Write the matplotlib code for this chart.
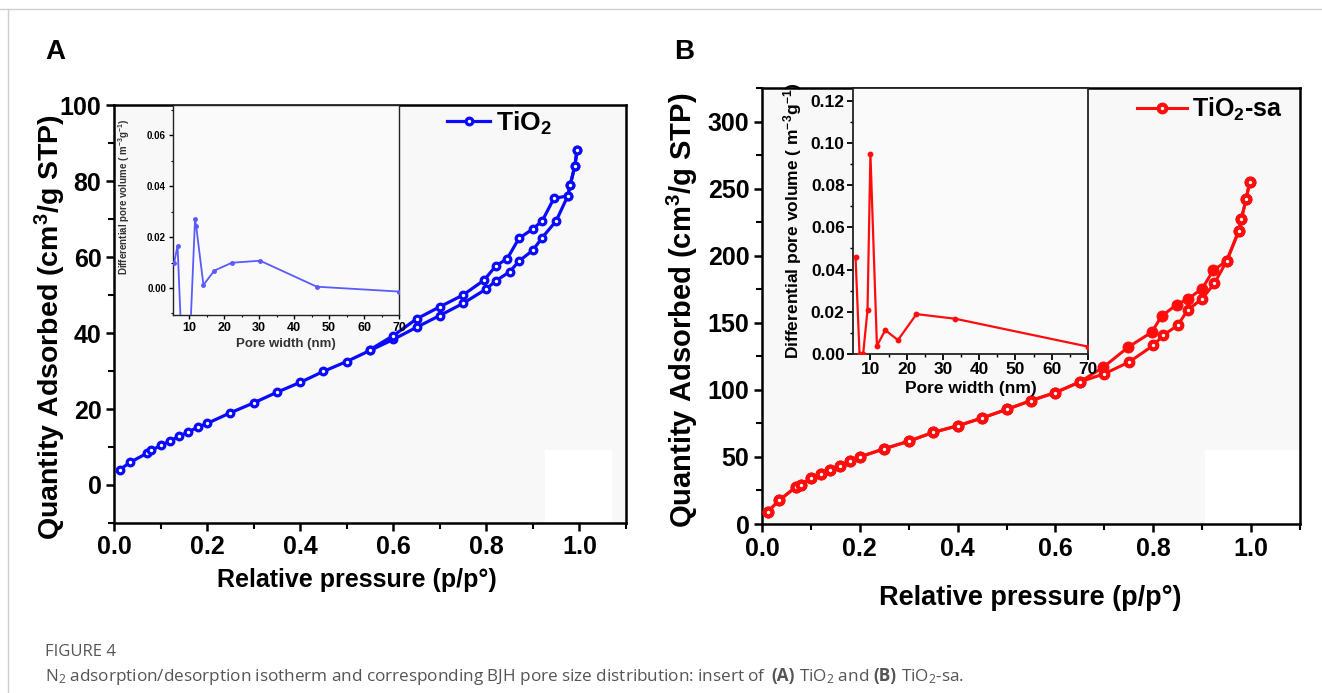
import matplotlib
matplotlib.use("Agg")
import matplotlib.pyplot as plt
from matplotlib.lines import Line2D
from matplotlib.patches import Rectangle
from matplotlib.ticker import MultipleLocator, FormatStrFormatter

plt.rcParams['font.family'] = ['Liberation Sans', 'DejaVu Sans']
plt.rcParams['font.weight'] = 'bold'
plt.rcParams['axes.labelweight'] = 'bold'

# ---- TiO2 isotherm (relative pressure, cm3/g STP) ----
ads_p_a = [0.012, 0.035, 0.07, 0.08, 0.10, 0.12, 0.14, 0.16, 0.18, 0.20, 0.25, 0.30,
           0.35, 0.40, 0.45, 0.50, 0.55, 0.60, 0.65, 0.70, 0.75, 0.80, 0.82, 0.85,
           0.87, 0.90, 0.92, 0.95, 0.975, 0.98, 0.99, 0.995]
ads_q_a = [4.0, 6.0, 8.3, 9.1, 10.4, 11.6, 12.8, 14.0, 15.2, 16.2, 19.0, 21.6,
           24.4, 27.0, 29.9, 32.5, 35.4, 38.3, 41.5, 44.6, 47.8, 51.6, 53.7, 56.1,
           58.9, 61.8, 65.1, 69.5, 76.1, 78.9, 83.9, 88.2]
des_p_a = [0.995, 0.99, 0.98, 0.975, 0.945, 0.92, 0.90, 0.87, 0.845, 0.82, 0.795,
           0.75, 0.70, 0.65, 0.60, 0.55]
des_q_a = [88.2, 83.9, 78.9, 76.1, 75.4, 69.5, 67.4, 64.9, 59.6, 57.6, 53.9,
           50.0, 46.9, 43.7, 39.3, 35.6]

# ---- TiO2-sa isotherm ----
ads_p_b = [0.012, 0.035, 0.07, 0.08, 0.10, 0.12, 0.14, 0.16, 0.18, 0.20, 0.25, 0.30,
           0.35, 0.40, 0.45, 0.50, 0.55, 0.60, 0.65, 0.70, 0.75, 0.80, 0.82, 0.85,
           0.87, 0.90, 0.925, 0.95, 0.975, 0.98, 0.99, 0.997]
ads_q_b = [9.3, 17.6, 27.8, 29.3, 34.1, 37.3, 40.5, 43.2, 46.8, 50.0, 56.1, 61.7,
           68.3, 73.2, 79.0, 85.4, 92.0, 98.0, 105.9, 112.0, 120.6, 133.1, 140.6, 148.1,
           159.3, 168.0, 179.3, 196.0, 218.6, 227.4, 242.3, 254.8]
des_p_b = [0.997, 0.99, 0.98, 0.975, 0.95, 0.923, 0.90, 0.872, 0.848, 0.817, 0.797,
           0.749, 0.698, 0.65, 0.60, 0.55, 0.50, 0.45, 0.40, 0.35, 0.30, 0.25, 0.20,
           0.18, 0.16, 0.14, 0.12, 0.10, 0.08, 0.07, 0.035, 0.012]
des_q_b = [254.8, 242.3, 227.4, 218.6, 196.0, 189.2, 175.5, 168.0, 163.5, 155.0, 143.0,
           131.9, 116.9, 105.9, 98.0, 92.0, 85.4, 79.0, 73.2, 68.3, 61.7, 56.1, 50.0,
           46.8, 43.2, 40.5, 37.3, 34.1, 29.3, 27.8, 17.6, 9.3]

# ---- BJH pore size distributions (nm, differential pore volume) ----
pw_a = [5.7, 6.7, 9.0, 11.7, 12.0, 14.1, 17.2, 22.2, 30.3, 46.5, 70.0]
dv_a = [0.0097, 0.0166, -0.060, 0.0270, 0.0245, 0.0012, 0.0068, 0.0099, 0.0107, 0.0005, -0.0014]
pw_b = [5.9, 7.0, 8.0, 9.2, 10.0, 11.8, 14.1, 17.6, 22.7, 33.4, 70.0]
dv_b = [0.046, 0.0, 0.0, 0.0208, 0.0948, 0.0039, 0.0113, 0.0066, 0.0189, 0.0167, 0.0035]

BLUE = '#0a0aff'
RED = '#ff0d0d'

W, H = 1322, 693
fig = plt.figure(figsize=(W / 100, H / 100), dpi=100)


def box(x0, y0, x1, y1):
    return [x0 / W, 1 - y1 / H, (x1 - x0) / W, (y1 - y0) / H]


# page frame lines
fig.add_artist(Line2D([0, 1], [1 - 9 / H, 1 - 9 / H], transform=fig.transFigure, color='#cfcfcf', lw=1))
fig.add_artist(Line2D([8 / W, 8 / W], [0, 1 - 9 / H], transform=fig.transFigure, color='#cfcfcf', lw=1))

axA = fig.add_axes(box(114, 105, 626, 523))
axB = fig.add_axes(box(762, 88, 1300, 524))
inA = fig.add_axes(box(173, 105, 399, 315))
inB = fig.add_axes(box(853, 88, 1088, 354))


def style_main(ax, ylim, ymaj, ymin, fs):
    ax.set_xlim(0, 1.1)
    ax.set_ylim(*ylim)
    ax.set_facecolor('#f8f8f8')
    ax.xaxis.set_major_locator(MultipleLocator(0.2))
    ax.xaxis.set_minor_locator(MultipleLocator(0.1))
    ax.yaxis.set_major_locator(MultipleLocator(ymaj))
    ax.yaxis.set_minor_locator(MultipleLocator(ymin))
    ax.xaxis.set_major_formatter(FormatStrFormatter('%.1f'))
    for s in ax.spines.values():
        s.set_linewidth(1.8)
    ax.tick_params(which='major', direction='out', length=6, width=1.8, labelsize=fs, pad=3)
    ax.tick_params(which='minor', direction='out', length=4, width=1.5)


style_main(axA, (-10, 100), 20, 10, 18)
style_main(axB, (0, 325), 50, 25, 18)

# white patches in the lower right of each plot area
axA.add_patch(Rectangle((0.926, -9.7), 0.144, 18.9, facecolor='white', edgecolor='none', zorder=0.5))
axB.add_patch(Rectangle((0.906, 0), 0.194, 55, facecolor='white', edgecolor='none', zorder=0.5))

# TiO2 isotherm
axA.plot(ads_p_a, ads_q_a, color=BLUE, lw=2.3, marker='o', ms=4.8, mfc='white',
         mec=BLUE, mew=2.3, zorder=3, label='TiO$\\mathregular{_2}$')
axA.plot(des_p_a, des_q_a, color=BLUE, lw=2.3, marker='o', ms=4.8, mfc='white',
         mec=BLUE, mew=2.3, zorder=3)

# TiO2-sa isotherm
axB.plot(des_p_b, des_q_b, color=RED, lw=2.2, marker='o', ms=8, mfc=RED,
         mec=RED, mew=0.6, zorder=3)
axB.plot(ads_p_b, ads_q_b, color=RED, lw=2.2, marker='o', ms=5.5, mfc='white',
         mec=RED, mew=3.0, zorder=4, label='TiO$\\mathregular{_2}$-sa')

for ax, fsy, fsx, ylx, yly, xlx, xly in [
        (axA, 20.5, 18, -0.09, 0.469, 0.475, -0.108),
        (axB, 21, 19.5, -0.115, 0.49, 0.498, -0.14)]:
    ax.set_ylabel('Quantity Adsorbed (cm$\\mathregular{^3}$/g STP)', fontsize=fsy)
    ax.set_xlabel('Relative pressure (p/p°)', fontsize=fsx)
    ax.yaxis.set_label_coords(ylx, yly)
    ax.xaxis.set_label_coords(xlx, xly)

axA.legend(loc='center left', bbox_to_anchor=(0.650, 0.957), frameon=False,
           fontsize=19, handlelength=1.65, handletextpad=0.2, borderpad=0, borderaxespad=0)
axB.legend(loc='center left', bbox_to_anchor=(0.697, 0.950), frameon=False,
           fontsize=18, handlelength=2.0, handletextpad=0.2, borderpad=0, borderaxespad=0)


def style_inset(ax, xlim, ylim, fx, fy, sw, tl):
    ax.set_xlim(*xlim)
    ax.set_ylim(*ylim)
    ax.set_facecolor('#fafafa')
    ax.xaxis.set_major_locator(MultipleLocator(10))
    ax.xaxis.set_minor_locator(MultipleLocator(5))
    ax.yaxis.set_major_locator(MultipleLocator(0.02))
    ax.yaxis.set_minor_locator(MultipleLocator(0.01))
    ax.yaxis.set_major_formatter(FormatStrFormatter('%.2f'))
    for s in ax.spines.values():
        s.set_linewidth(sw)
        s.set_color('#222222')
    ax.tick_params(axis='x', which='major', labelsize=fx, length=tl, width=sw, pad=2)
    ax.tick_params(axis='y', which='major', labelsize=fy, length=tl, width=sw, pad=2)
    ax.tick_params(which='minor', length=tl * 0.6, width=sw * 0.8)


style_inset(inA, (5.4, 70), (-0.0106, 0.0718), 9, 7, 1.0, 3)
style_inset(inB, (5.2, 70), (0, 0.126), 12.5, 12.5, 1.3, 4)

inA.plot(pw_a, dv_a, color='#5a5aff', lw=1.3, marker='o', ms=2.5, zorder=3)
inB.plot(pw_b, dv_b, color=RED, lw=1.6, marker='o', ms=3.2, zorder=3)

inA.set_xlabel('Pore width (nm)', fontsize=9.5, color='#333333', labelpad=3)
inA.set_ylabel('Differential pore volume ( m$\\mathregular{^{-3}}$g$\\mathregular{^{-1}}$)',
               fontsize=7, color='#333333')
inA.yaxis.set_label_coords(-0.18, 0.56)
inB.set_xlabel('Pore width (nm)', fontsize=12.5, labelpad=3)
inB.set_ylabel('Differential pore volume ( m$\\mathregular{^{-3}}$g$\\mathregular{^{-1}}$)',
               fontsize=12.5)
inB.yaxis.set_label_coords(-0.21, 0.5)

# panel letters
fig.text(45 / W, 1 - 52 / H, 'A', fontsize=20, fontweight='bold', va='center', ha='left')
fig.text(674 / W, 1 - 52 / H, 'B', fontsize=20, fontweight='bold', va='center', ha='left')

# caption
cap_font = ['Open Sans', 'DejaVu Sans']
CAP = '#555555'
fig.text(45 / W, 1 - 652 / H, 'FIGURE 4', fontsize=12, fontweight='normal', family=cap_font,
         color=CAP, va='center', ha='left')

pieces = [('N$\\mathregular{_2}$ adsorption/desorption isotherm and corresponding BJH pore size '
           'distribution: insert of', 'normal'),
          ('(A)', 'bold'), ('TiO$\\mathregular{_2}$ and', 'normal'),
          ('(B)', 'bold'), ('TiO$\\mathregular{_2}$-sa.', 'normal')]
fig.canvas.draw()
renderer = fig.canvas.get_renderer()
x = 45
for txt, wt in pieces:
    t = fig.text(x / W, 1 - 681 / H, txt, fontsize=12.3, fontweight=wt, family=cap_font,
                 color=CAP, va='baseline', ha='left')
    ext = t.get_window_extent(renderer)
    x = ext.x1 + 4.5

fig.savefig('out.png', dpi=100, facecolor='white')
